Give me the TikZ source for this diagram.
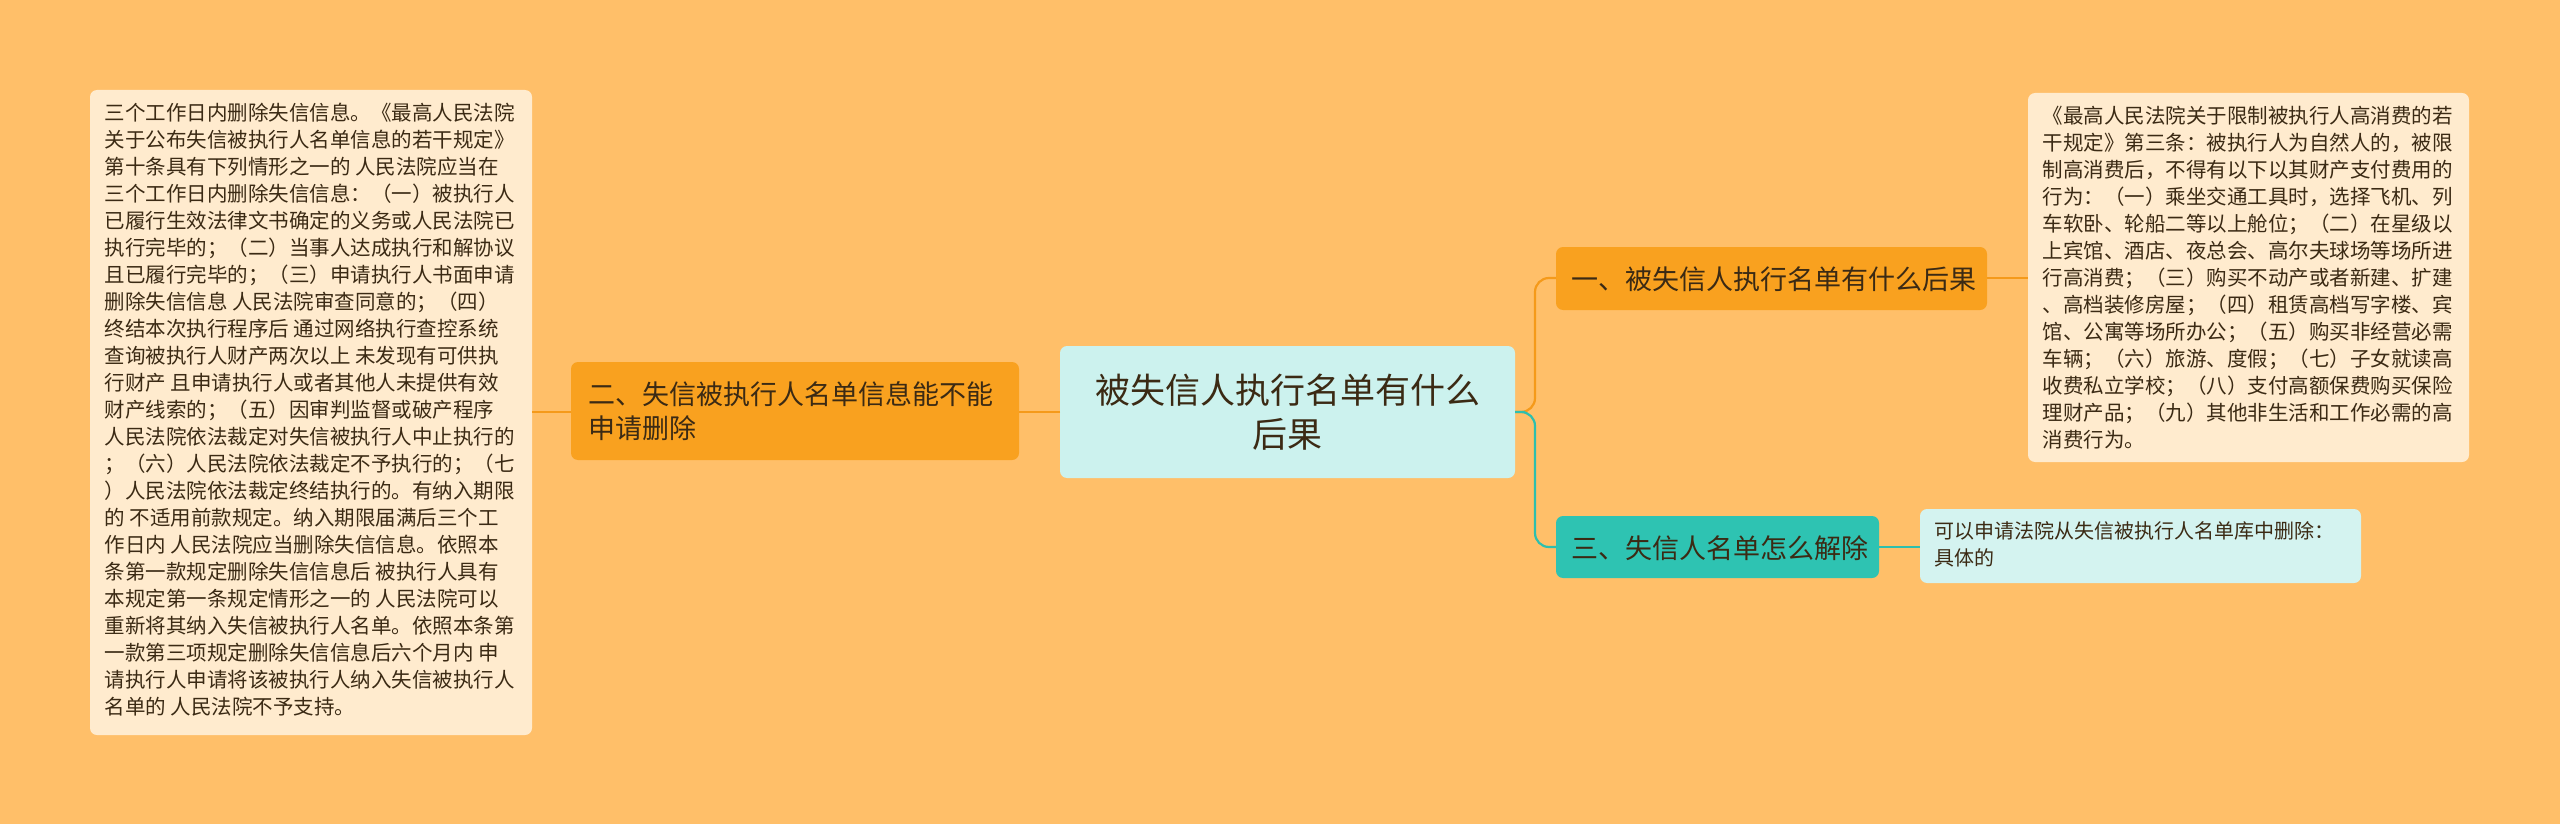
\documentclass[tikz,border=0pt]{standalone}
\usepackage{fontspec}
\setmainfont{Noto Sans CJK SC}
\begin{document}
\begin{tikzpicture}[x=1pt,y=-1pt,
  box/.style={rounded corners=7pt,inner sep=0pt},
  leaf/.style={font=\fontsize{20.5}{27}\selectfont,text=txt,align=left,anchor=north west},
  lineo/.style={draw=lno,line width=2.2pt},
  linet/.style={draw=lnt,line width=2.2pt}]
\definecolor{bg}{HTML}{FFBF69}
\definecolor{cen}{HTML}{CCF2EE}
\definecolor{org}{HTML}{F9A11F}
\definecolor{teal}{HTML}{2EC3B2}
\definecolor{lf}{HTML}{FFEBCE}
\definecolor{lfc}{HTML}{D4F3F0}
\definecolor{txt}{HTML}{3B2A14}
\definecolor{lno}{HTML}{F59A1A}
\definecolor{lnt}{HTML}{2EBFAE}
\fill[bg] (0,0) rectangle (2560,824);
\useasboundingbox (0,0) rectangle (2560,824);
% boxes
\fill[box,lf] (90,90) rectangle (532,735);
\fill[box,lf] (2028,93) rectangle (2469,462);
\fill[box,cen] (1060,346) rectangle (1515,478);
\fill[box,org] (571,362) rectangle (1019,460);
\fill[box,org] (1556,247) rectangle (1987,310);
\fill[box,teal] (1556,516) rectangle (1879,578);
\fill[box,lfc] (1920,509) rectangle (2361,583);
% named anchors
\coordinate (cR) at (1515,412);
\coordinate (cL) at (1060,412);
\coordinate (bL) at (1019,412);
\coordinate (bLl) at (571,412);
\coordinate (lL) at (532,412);
\coordinate (b1) at (1556,278);
\coordinate (b1r) at (1987,278);
\coordinate (l1) at (2028,278);
\coordinate (b3) at (1556,547);
\coordinate (b3r) at (1879,547);
\coordinate (l3) at (1920,547);
% connectors
\draw[lineo] (cL) -- (bL);
\draw[lineo] (bLl) -- (lL);
\draw[lineo] (cR) -- (1525,412) [rounded corners=14pt] -- (1535,412) -- (1535,278) -- (b1);
\draw[linet] (cR) -- (1525,412) [rounded corners=14pt] -- (1535,412) -- (1535,547) -- (b3);
\draw[lineo] (b1r) -- (l1);
\draw[linet] (b3r) -- (l3);
% texts
\node[font=\fontsize{35}{44}\selectfont,text=txt,align=center] (c) at (1287.5,412) {被失信人执行名单有什么\\后果};
\node[font=\fontsize{27}{34}\selectfont,text=txt,align=left,anchor=west] (n2) at (585,411) {二、失信被执行人名单信息能不能\\申请删除};
\node[font=\fontsize{27}{34}\selectfont,text=txt,anchor=west] (n1) at (1568,279) {一、被失信人执行名单有什么后果};
\node[font=\fontsize{27}{34}\selectfont,text=txt,anchor=west] (n3) at (1568,548) {三、失信人名单怎么解除};
\node[leaf,font=\fontsize{20}{27}\selectfont] (t3) at (1931,518) {可以申请法院从失信被执行人名单库中删除：\\具体的};
\node[leaf] (tl) at (101,100) {三个工作日内删除失信信息。《最高人民法院\\关于公布失信被执行人名单信息的若干规定》\\第十条具有下列情形之一的 人民法院应当在\\三个工作日内删除失信信息：（一）被执行人\\已履行生效法律文书确定的义务或人民法院已\\执行完毕的；（二）当事人达成执行和解协议\\且已履行完毕的；（三）申请执行人书面申请\\删除失信信息 人民法院审查同意的；（四）\\终结本次执行程序后 通过网络执行查控系统\\查询被执行人财产两次以上 未发现有可供执\\行财产 且申请执行人或者其他人未提供有效\\财产线索的；（五）因审判监督或破产程序\\人民法院依法裁定对失信被执行人中止执行的\\；（六）人民法院依法裁定不予执行的；（七\\）人民法院依法裁定终结执行的。有纳入期限\\的 不适用前款规定。纳入期限届满后三个工\\作日内 人民法院应当删除失信信息。依照本\\条第一款规定删除失信信息后 被执行人具有\\本规定第一条规定情形之一的 人民法院可以\\重新将其纳入失信被执行人名单。依照本条第\\一款第三项规定删除失信信息后六个月内 申\\请执行人申请将该被执行人纳入失信被执行人\\名单的 人民法院不予支持。};
\node[leaf] (tr) at (2039,103) {《最高人民法院关于限制被执行人高消费的若\\干规定》第三条：被执行人为自然人的，被限\\制高消费后，不得有以下以其财产支付费用的\\行为：（一）乘坐交通工具时，选择飞机、列\\车软卧、轮船二等以上舱位；（二）在星级以\\上宾馆、酒店、夜总会、高尔夫球场等场所进\\行高消费；（三）购买不动产或者新建、扩建\\、高档装修房屋；（四）租赁高档写字楼、宾\\馆、公寓等场所办公；（五）购买非经营必需\\车辆；（六）旅游、度假；（七）子女就读高\\收费私立学校；（八）支付高额保费购买保险\\理财产品；（九）其他非生活和工作必需的高\\消费行为。};
\end{tikzpicture}
\end{document}
